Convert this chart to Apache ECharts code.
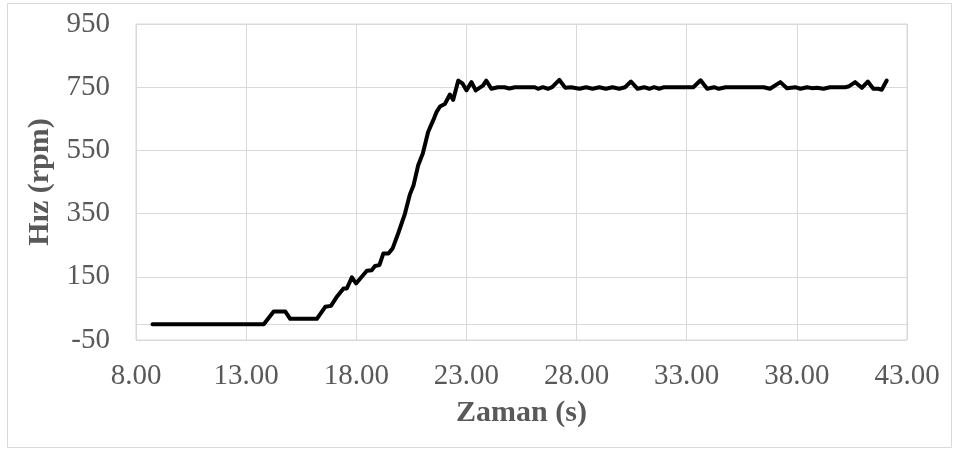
<!DOCTYPE html>
<html>
<head>
<meta charset="utf-8">
<script src="https://cdn.jsdelivr.net/npm/echarts@6/dist/echarts.min.js"></script>
<style>
html,body{margin:0;padding:0;background:#fff;}
#chart{width:953px;height:452px;}
</style>
</head>
<body>
<div id="chart"></div>
<script>
const xAxisTitle = 'Zaman (s)';
const yAxisTitle = 'Hız (rpm)';
const xTicks = [8, 13, 18, 23, 28, 33, 38, 43];
const yTicks = [-50, 150, 350, 550, 750, 950];

const time = [
  8.75, 13.8, 14.25, 14.78, 15.0, 16.21, 16.59, 16.85, 17.1, 17.42, 17.57, 17.8, 17.99,
  18.48, 18.7, 18.85, 19.05, 19.23, 19.46, 19.65, 19.9, 20.21, 20.43, 20.6, 20.81,
  21.02, 21.26, 21.49, 21.64, 21.8, 22.02, 22.25, 22.4, 22.63, 22.83, 23.0, 23.23,
  23.42, 23.75, 23.9, 24.13, 24.43, 24.5, 24.73, 24.95, 25.2, 26.1, 26.25, 26.47,
  26.7, 26.89, 27.22, 27.49, 27.75, 28.13, 28.43, 28.73, 29.03, 29.33, 29.63, 29.94,
  30.2, 30.47, 30.77, 31.07, 31.3, 31.52, 31.75, 31.98, 33.3, 33.63, 33.93, 34.24,
  34.46, 34.76, 36.5, 36.78, 37.25, 37.55, 37.93, 38.16, 38.46, 38.68, 38.91, 39.21,
  39.5, 40.2, 40.34, 40.65, 40.95, 41.22, 41.47, 41.7, 41.85, 42.08
];
const rpm = [
  0, 0, 40, 40, 17, 17, 55, 58, 85, 113, 113, 148, 129,
  169, 171, 184, 187, 224, 224, 240, 287, 350, 410, 440, 503,
  540, 608, 645, 671, 689, 697, 727, 710, 771, 761, 740, 766,
  740, 755, 771, 745, 750, 745, 750, 746, 750, 750, 745, 750,
  745, 750, 773, 748, 750, 745, 750, 745, 750, 745, 750, 745,
  750, 768, 745, 750, 745, 750, 745, 750, 750, 772, 745, 750,
  745, 750, 750, 745, 766, 747, 750, 745, 750, 747, 748, 745,
  750, 750, 752, 766, 748, 768, 745, 745, 742, 771
];

const seriesData = time.map((t, i) => [t, rpm[i]]);
const fontFamily = "'Liberation Serif', 'Times New Roman', serif";
const textColor = '#595959';
const gridColor = '#d9d9d9';

const chart = echarts.init(document.getElementById('chart'), null, {renderer: 'canvas'});
chart.setOption({
  backgroundColor: '#ffffff',
  animation: false,
  graphic: [{
    type: 'rect',
    shape: {x: 7.5, y: 3.5, width: 944, height: 444},
    style: {fill: 'none', stroke: gridColor, lineWidth: 1},
    silent: true,
    z: -1
  }],
  grid: {
    left: 136, right: 46, top: 24, bottom: 112,
    show: true, borderColor: gridColor, borderWidth: 1
  },
  xAxis: [{
    type: 'value',
    min: xTicks[0], max: xTicks[xTicks.length - 1], interval: 5,
    name: xAxisTitle,
    nameLocation: 'middle',
    nameGap: 58,
    nameTextStyle: {fontFamily, fontSize: 30, fontWeight: 'bold', color: textColor},
    axisLine: {show: false, onZero: false},
    axisTick: {show: false},
    axisLabel: {
      fontFamily, fontSize: 29, color: textColor, margin: 22,
      formatter: v => v.toFixed(2)
    },
    splitLine: {show: true, lineStyle: {color: gridColor, width: 1}}
  }, {
    type: 'value',
    min: xTicks[0], max: xTicks[xTicks.length - 1], interval: 5,
    position: 'bottom',
    axisLine: {show: true, onZero: true, onZeroAxisIndex: 0, lineStyle: {color: gridColor, width: 1}},
    axisTick: {show: false},
    axisLabel: {show: false},
    splitLine: {show: false}
  }],
  yAxis: {
    type: 'value',
    min: yTicks[0], max: yTicks[yTicks.length - 1], interval: 200,
    name: yAxisTitle,
    nameLocation: 'middle',
    nameGap: 76,
    nameRotate: 90,
    nameTextStyle: {fontFamily, fontSize: 30, fontWeight: 'bold', color: textColor},
    axisLine: {show: false},
    axisTick: {show: false},
    axisLabel: {fontFamily, fontSize: 29, color: textColor, margin: 26},
    splitLine: {show: true, lineStyle: {color: gridColor, width: 1}}
  },
  series: [{
    type: 'line',
    xAxisIndex: 0,
    data: seriesData,
    showSymbol: false,
    symbol: 'none',
    lineStyle: {color: '#000000', width: 4, join: 'round', cap: 'round'},
    z: 5
  }]
});
</script>
</body>
</html>
